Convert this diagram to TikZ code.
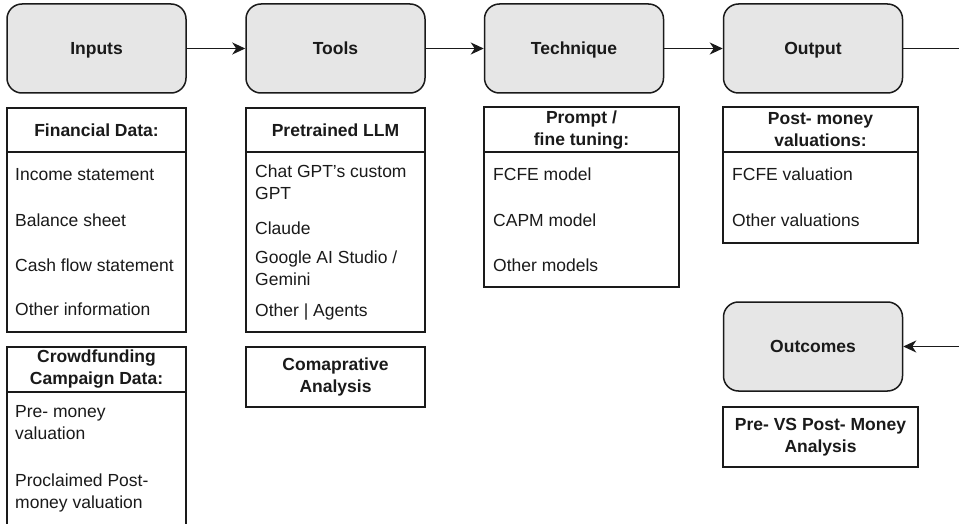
\documentclass[tikz,border=0pt]{standalone}
\usepackage{fontspec}
\setmainfont{Liberation Sans}
\usetikzlibrary{arrows.meta}
\definecolor{boxfill}{HTML}{E6E6E6}
\definecolor{ink}{HTML}{1A1A1A}
\begin{document}
\begin{tikzpicture}[x=1pt,y=-1pt,
  stage/.style={draw=ink, line width=1.5pt, fill=boxfill, rounded corners=15pt,
    minimum width=179pt, minimum height=89pt, inner sep=0pt,
    text height=12.6pt, text depth=0pt,
    font=\fontsize{17.5}{22}\selectfont\bfseries, text=ink},
  listbox/.style={draw=ink, line width=1.4pt},
  item/.style={anchor=base west, inner sep=0pt, align=left,
    font=\fontsize{17.5}{22}\selectfont, text=ink},
  head/.style={inner sep=0pt, align=center,
    font=\fontsize{17.5}{22}\selectfont\bfseries, text=ink},
  flow/.style={draw=ink, line width=1.5pt, -{Stealth[length=13pt,width=12pt,inset=4pt]}},
  plain/.style={draw=ink, line width=1.5pt}
]
\clip (0,0) rectangle (959,524);
\fill[white] (0,0) rectangle (959,524);

% stage boxes
\node[stage] (inputs) at (96.5,48.5) {Inputs};
\node[stage] (tools) at (335.5,48.5) {Tools};
\node[stage] (technique) at (574,48.5) {Technique};
\node[stage] (output) at (813,48.5) {Output};
\node[stage] (outcomes) at (813,346.5) {Outcomes};
\coordinate (outR) at (970,48.5);
\coordinate (inR) at (970,346.5);

\draw[flow] (inputs) -- (tools);
\draw[flow] (tools) -- (technique);
\draw[flow] (technique) -- (output);
\draw[plain] (output) -- (outR);
\draw[flow] (inR) -- (outcomes);

% Financial data
\draw[listbox] (7,108) rectangle (186,332);
\draw[listbox] (7,152) -- (186,152);
\node[head] (fdh) at (96.5,130) {Financial Data:};
\node[item] (fd1) at (15,181) {Income statement};
\node[item] (fd2) at (15,226) {Balance sheet};
\node[item] (fd3) at (15,271) {Cash flow statement};
\node[item] (fd4) at (15,315) {Other information};

% Pretrained LLM
\draw[listbox] (246,108) rectangle (425,332);
\draw[listbox] (246,152) -- (425,152);
\node[head] (llmh) at (335.5,130) {Pretrained LLM};
\node[item] (llm1) at (255,200) {Chat GPT's custom\\GPT};
\node[item] (llm2) at (255,234) {Claude};
\node[item] (llm3) at (255,285) {Google AI Studio /\\Gemini};
\node[item] (llm4) at (255,316) {Other | Agents};

% Prompt / fine tuning
\draw[listbox] (484,107) rectangle (679,287);
\draw[listbox] (484,152) -- (679,152);
\node[head] (pfh) at (581.5,130) {Prompt /\\fine tuning:};
\node[item] (pf1) at (493,181) {FCFE model};
\node[item] (pf2) at (493,226) {CAPM model};
\node[item] (pf3) at (493,271) {Other models};

% Post-money valuations
\draw[listbox] (723,107) rectangle (918,243);
\draw[listbox] (723,152) -- (918,152);
\node[head] (pmh) at (820.5,130) {Post- money\\valuations:};
\node[item] (pm1) at (732,181) {FCFE valuation};
\node[item] (pm2) at (732,226) {Other valuations};

% Crowdfunding
\draw[listbox] (7,347) rectangle (186,560);
\draw[listbox] (7,392) -- (186,392);
\node[head] (cfh) at (96.5,369) {Crowdfunding\\Campaign Data:};
\node[item] (cf1) at (15,439) {Pre- money\\valuation};
\node[item] (cf2) at (15,508) {Proclaimed Post-\\money valuation};

% Comparative analysis
\node[listbox, head, minimum width=179pt, minimum height=60pt] (comp) at (335.5,377) {Comaprative\\Analysis};

% Pre vs Post
\node[listbox, head, minimum width=195pt, minimum height=60pt] (prepost) at (820.5,437) {Pre- VS Post- Money\\Analysis};
\end{tikzpicture}
\end{document}
